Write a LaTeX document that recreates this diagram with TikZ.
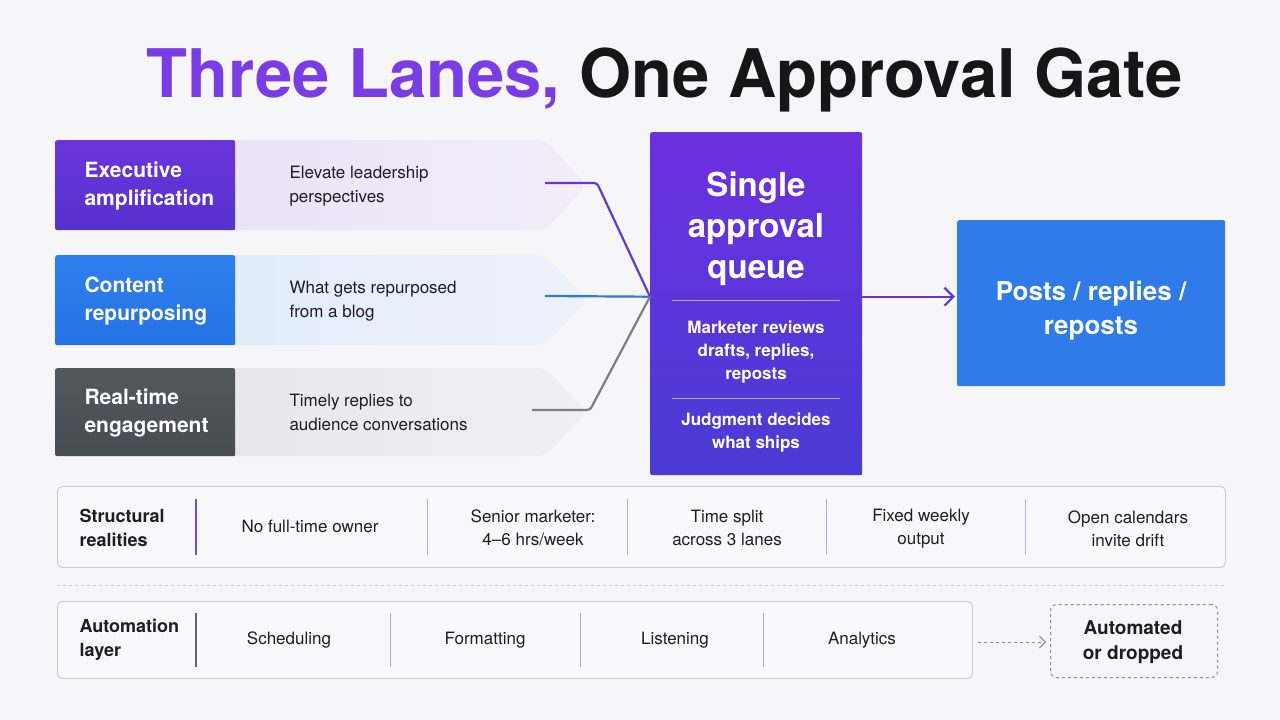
\documentclass[tikz,border=0pt]{standalone}
\usepackage{fontspec}
\setmainfont{TeX Gyre Heros}
\usetikzlibrary{arrows.meta}
\definecolor{bg}{HTML}{F6F6F8}
\definecolor{titlepurple}{HTML}{7A3CE6}
\definecolor{titleblack}{HTML}{161616}
\definecolor{ink}{HTML}{1E1E22}
\definecolor{execA}{HTML}{6A34DC}
\definecolor{execB}{HTML}{5732CF}
\definecolor{contA}{HTML}{2F80EE}
\definecolor{contB}{HTML}{2472E4}
\definecolor{realA}{HTML}{53585E}
\definecolor{realB}{HTML}{474C52}
\definecolor{paleP}{HTML}{E9E4F7}
\definecolor{palePr}{HTML}{F1EEF9}
\definecolor{paleB}{HTML}{E2ECFA}
\definecolor{paleBr}{HTML}{EDF2FA}
\definecolor{paleG}{HTML}{E8E8EA}
\definecolor{paleGr}{HTML}{F0F0F2}
\definecolor{queueTop}{HTML}{6C30E0}
\definecolor{queueBot}{HTML}{4A3BD4}
\definecolor{postsBlue}{HTML}{2F7BEA}
\definecolor{connP}{HTML}{6436DE}
\definecolor{connB}{HTML}{2F78E8}
\definecolor{connG}{HTML}{7E7E80}
\definecolor{barFill}{HTML}{F9F9FB}
\definecolor{barLine}{HTML}{C9C9CE}
\definecolor{divP}{HTML}{6E4FE4}
\definecolor{divPl}{HTML}{B9A9F0}
\definecolor{divG}{HTML}{8E8E94}
\begin{document}
\begin{tikzpicture}[x=1pt,y=-1pt,
  lanebox/.style={anchor=north west, minimum width=180pt, minimum height=90pt, inner sep=0pt, rounded corners=2pt},
  lanelabel/.style={anchor=west, align=left, text=white, font=\fontsize{21}{28}\selectfont\bfseries},
  lanedesc/.style={anchor=west, align=left, text=ink, font=\fontsize{17}{24}\selectfont},
  conn/.style={line width=2.2pt, rounded corners=3pt},
  qtext/.style={align=center, text=white, font=\fontsize{17}{23}\selectfont\bfseries},
  bar/.style={anchor=north west, draw=barLine, fill=barFill, rounded corners=5pt, line width=0.9pt, inner sep=0pt},
  barhead/.style={anchor=west, align=left, text=ink, font=\fontsize{18}{24}\selectfont\bfseries},
  bartext/.style={align=center, text=ink, font=\fontsize{17}{23}\selectfont},
]
\useasboundingbox (0,0) rectangle (1280,720);
\fill[bg] (0,0) rectangle (1280,720);

% Title
\node[font=\fontsize{67}{72}\selectfont\bfseries, text=titleblack, inner sep=0pt] (title) at (665,80)
  {\textcolor{titlepurple}{Three Lanes,} One Approval Gate};

% Pale chevrons
\shade[left color=paleP, right color=palePr, rounded corners=8pt]
  (225,140) -- (545,140) -- (587,185) -- (545,230) -- (225,230) -- cycle;
\shade[left color=paleB, right color=paleBr, rounded corners=8pt]
  (225,255) -- (545,255) -- (587,300) -- (545,345) -- (225,345) -- cycle;
\shade[left color=paleG, right color=paleGr, rounded corners=8pt]
  (225,368) -- (545,368) -- (587,412) -- (545,456) -- (225,456) -- cycle;

% Lane boxes
\node[lanebox, top color=execA, bottom color=execB] (exec) at (55,140) {};
\node[lanebox, top color=contA, bottom color=contB] (cont) at (55,255) {};
\node[lanebox, top color=realA, bottom color=realB, minimum height=88pt] (real) at (55,368) {};

\node[lanelabel] (execL) at (81,186) {Executive\\amplification};
\node[lanelabel] (contL) at (81,301) {Content\\repurposing};
\node[lanelabel] (realL) at (81,413) {Real-time\\engagement};

\node[lanedesc] (execD) at (286,186) {Elevate leadership\\perspectives};
\node[lanedesc] (contD) at (286,301) {What gets repurposed\\from a blog};
\node[lanedesc] (realD) at (286,412) {Timely replies to\\audience conversations};

% Queue
\node[anchor=north west, minimum width=212pt, minimum height=343pt, inner sep=0pt,
      top color=queueTop, bottom color=queueBot, rounded corners=2pt] (queue) at (650,132) {};
\node[align=center, text=white, font=\fontsize{33}{41}\selectfont\bfseries] (qtitle) at (756,229)
  {Single\\approval\\queue};
\draw[white!55!queueTop, line width=0.9pt] (672,300) -- (840,300);
\node[qtext] (qbody) at (756,352) {Marketer reviews\\drafts, replies,\\reposts};
\draw[white!55!queueBot, line width=0.9pt] (672,398) -- (840,398);
\node[qtext] (qjudge) at (756,433) {Judgment decides\\what ships};

% Posts
\node[anchor=north west, minimum width=268pt, minimum height=166pt, inner sep=0pt,
      fill=postsBlue, rounded corners=2pt] (posts) at (957,220) {};
\node[align=center, text=white, font=\fontsize{26}{34}\selectfont\bfseries] (postsT) at (1091,311)
  {Posts / replies /\\reposts};

% Connectors
\coordinate (m) at ([yshift=7pt]queue.west);
\coordinate (s1) at (545,183);
\coordinate (s2) at (545,296);
\coordinate (s3) at (532,410);
\draw[conn, connP] (s1) -- ++(52,0) -- (m);
\draw[conn, connB] (s2) -- (m);
\draw[conn, connG] (s3) -- ++(58,0) -- (m);
\draw[connP, line width=2.2pt, -{Straight Barb[length=9pt, width=18pt, line width=2.2pt]}]
  (queue.east |- m) -- ([xshift=-2pt]posts.west |- m);

% Structural realities bar
\node[bar, minimum width=1168pt, minimum height=81pt] (struct) at (57,486) {};
\node[barhead] (structH) at (76,528) {Structural\\realities};
\draw[divP, line width=1.3pt] (196,499) -- (196,555);
\draw[divPl, line width=1pt] (427,499) -- (427,555);
\draw[divPl, line width=1pt] (627,499) -- (627,555);
\draw[divPl, line width=1pt] (826,499) -- (826,555);
\draw[divPl, line width=1pt] (1025,499) -- (1025,555);
\node[bartext] (r1) at (310,526) {No full-time owner};
\node[bartext] (r2) at (533,528) {Senior marketer:\\4–6 hrs/week};
\node[bartext] (r3) at (727,528) {Time split\\across 3 lanes};
\node[bartext] (r4) at (921,529) {Fixed weekly\\output};
\node[bartext] (r5) at (1128,529) {Open calendars\\invite drift};

% Dashed separator
\draw[barLine, dashed, line width=0.8pt] (57,585) -- (1225,585);

% Automation bar
\node[bar, minimum width=915pt, minimum height=77pt] (auto) at (57,601) {};
\node[barhead] (autoH) at (76,640) {Automation\\layer};
\draw[divG!70!black, line width=1.2pt] (196,613) -- (196,667);
\draw[divG!70!white, line width=0.8pt] (390,613) -- (390,667);
\draw[divG!70!white, line width=0.8pt] (580,613) -- (580,667);
\draw[divG!70!white, line width=0.8pt] (763,613) -- (763,667);
\node[bartext] (a1) at (289,640) {Scheduling};
\node[bartext] (a2) at (485,640) {Formatting};
\node[bartext] (a3) at (675,640) {Listening};
\node[bartext] (a4) at (862,640) {Analytics};

% Automated or dropped
\node[anchor=north west, draw=divG, dashed, line width=1pt, rounded corners=6pt,
      minimum width=167pt, minimum height=73pt, inner sep=0pt] (drop) at (1050,604) {};
\node[align=center, text=ink, font=\fontsize{19}{25}\selectfont\bfseries] (dropT) at (1133,642)
  {Automated\\or dropped};
\draw[divG, dashed, line width=1pt, -{Straight Barb[length=6pt, width=12pt, line width=1pt]}]
  ([xshift=5pt]auto.east |- dropT) -- ([xshift=-4pt]drop.west |- dropT);
\end{tikzpicture}
\end{document}
